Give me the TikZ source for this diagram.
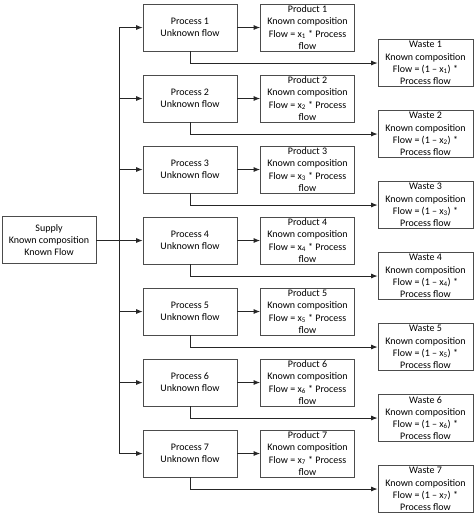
\documentclass[tikz,border=0pt]{standalone}
\usepackage{fontspec}
\setmainfont{Carlito}
\usetikzlibrary{arrows.meta}
\begin{document}
\begin{tikzpicture}
[x=1pt,y=-1pt,every node/.style={draw=black!70,line width=.8pt,minimum width=94pt,minimum height=47pt,inner sep=0pt,align=center,font=\fontsize{10}{12.2}\selectfont},
flow/.style={-{Latex[length=6.5pt,width=5pt]},line width=.8pt,black!85}]
\useasboundingbox (0,0) rectangle (474,517);
\node (supply) at (49,240) {Supply\\Known composition\\Known Flow};
\foreach \i in {1,...,7}{
\pgfmathsetmacro\py{27.5+71*(\i-1)}
\pgfmathsetmacro\wy{\py+35.5}
\node (p\i) at (190,\py) {Process \i\\Unknown flow};
\node (r\i) at (307.5,\py) {Product \i\\Known composition\\Flow = x\textsubscript{\i} * Process\\flow};
\node[minimum width=95pt] (w\i) at (425.5,\wy) {Waste \i\\Known composition\\Flow = (1 -- x\textsubscript{\i}) *\\Process flow};
}
\coordinate (bus) at (119,240);
\draw[line width=.8pt,black!85] (bus |- p1) -- (bus |- p7);
\draw[line width=.8pt,black!85] (supply) -- (bus);
\foreach \i in {1,...,7}{
\draw[flow] (bus |- p\i) -- (p\i);
\draw[flow] (p\i) -- (r\i);
\draw[flow] (p\i.south) |- (w\i);
}
\end{tikzpicture}
\end{document}
